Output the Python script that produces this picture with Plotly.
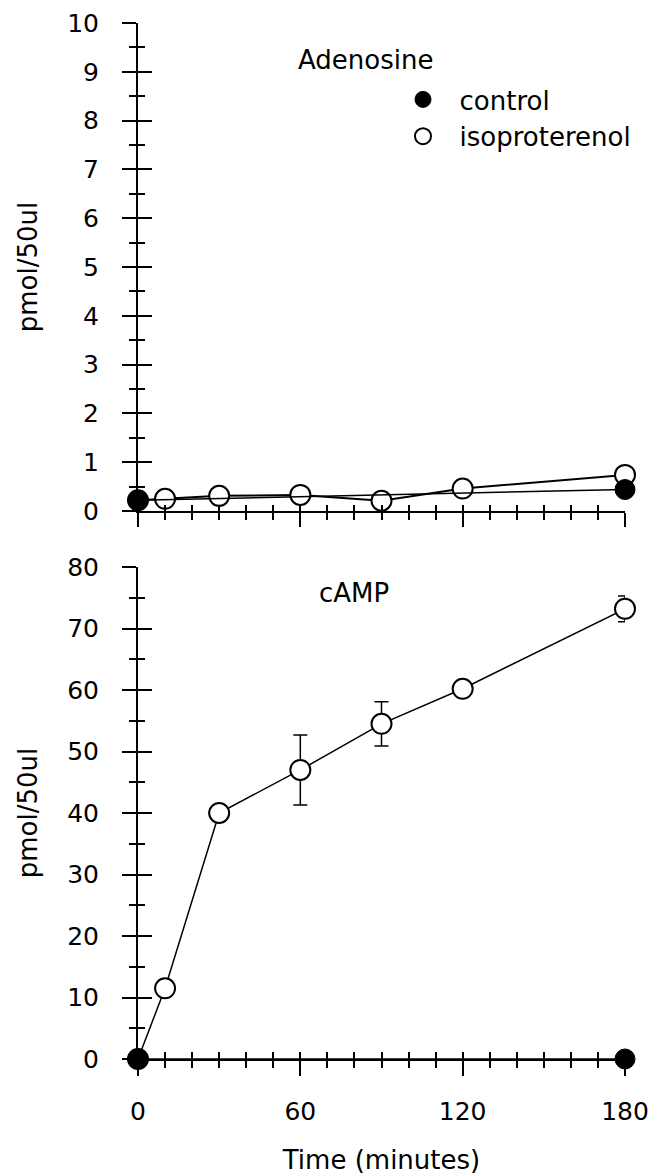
import plotly.graph_objects as go

# ---------------- data ----------------
time_ctrl = [0, 180]
time_iso = [0, 10, 30, 60, 90, 120, 180]

adeno_ctrl = [0.22, 0.44]
adeno_iso = [0.22, 0.25, 0.31, 0.33, 0.21, 0.46, 0.74]

camp_ctrl = [0, 0]
camp_iso = [0, 11.5, 40.0, 47.0, 54.5, 60.2, 73.2]
camp_iso_err = [0, 0, 0, 5.7, 3.6, 0, 2.1]

x_major = [0, 60, 120, 180]
x_tick_text = ["0", "60", "120", "180"]

series_names = ["\u00a0\u00a0control", "\u00a0\u00a0isoproterenol"]

# ---------------- style ----------------
W, H = 655, 1175
FONT = "DejaVu Sans"
FS_TICK = 25
FS = 26
BLACK = "black"

xd = [138 / W, 625 / W]
top_dom = [1 - 511 / H, 1 - 23 / H]
bot_dom = [1 - 1059 / H, 1 - 567 / H]

MS = 20

fig = go.Figure()

# ---- top panel: Adenosine ----
fig.add_trace(go.Scatter(x=time_iso, y=adeno_iso, mode="lines",
                         line=dict(color=BLACK, width=2), showlegend=False,
                         xaxis="x", yaxis="y", hoverinfo="skip"))
fig.add_trace(go.Scatter(x=time_iso, y=adeno_iso, mode="markers", name=series_names[1],
                         marker=dict(symbol="circle", size=MS, color="white",
                                     line=dict(color=BLACK, width=2)),
                         cliponaxis=False, xaxis="x", yaxis="y", legendrank=2))
fig.add_trace(go.Scatter(x=time_ctrl, y=adeno_ctrl, mode="lines",
                         line=dict(color=BLACK, width=1.5), showlegend=False,
                         xaxis="x", yaxis="y", hoverinfo="skip"))
fig.add_trace(go.Scatter(x=time_ctrl, y=adeno_ctrl, mode="markers", name=series_names[0],
                         marker=dict(symbol="circle", size=MS, color=BLACK,
                                     line=dict(color=BLACK, width=1)),
                         cliponaxis=False, xaxis="x", yaxis="y", legendrank=1))

# ---- bottom panel: cAMP ----
fig.add_trace(go.Scatter(x=time_iso, y=camp_iso, mode="lines",
                         line=dict(color=BLACK, width=1.5), showlegend=False,
                         xaxis="x2", yaxis="y2", hoverinfo="skip"))
fig.add_trace(go.Scatter(x=time_iso, y=camp_iso, mode="markers", showlegend=False,
                         error_y=dict(type="data", array=camp_iso_err, visible=True,
                                      color=BLACK, thickness=1.5, width=7),
                         marker=dict(symbol="circle", size=MS, color="white",
                                     line=dict(color=BLACK, width=2)),
                         cliponaxis=False, xaxis="x2", yaxis="y2"))
fig.add_trace(go.Scatter(x=time_ctrl, y=camp_ctrl, mode="lines",
                         line=dict(color=BLACK, width=1.5), showlegend=False,
                         xaxis="x2", yaxis="y2", hoverinfo="skip"))
fig.add_trace(go.Scatter(x=time_ctrl, y=camp_ctrl, mode="markers", showlegend=False,
                         marker=dict(symbol="circle", size=MS, color=BLACK,
                                     line=dict(color=BLACK, width=1)),
                         cliponaxis=False, xaxis="x2", yaxis="y2"))

# invisible traces to register overlay axes (inside half of the crossing ticks)
fig.add_trace(go.Scatter(x=[None], y=[None], xaxis="x3", yaxis="y3",
                         showlegend=False, hoverinfo="skip"))
fig.add_trace(go.Scatter(x=[None], y=[None], xaxis="x4", yaxis="y4",
                         showlegend=False, hoverinfo="skip"))

tickfont = dict(family=FONT, size=FS_TICK, color=BLACK)
titlefont = dict(family=FONT, size=FS, color=BLACK)


def xaxis_common(ticks, ticklen, minor_len, show_line):
    return dict(range=[0, 180], tickmode="array", tickvals=x_major,
                ticks=ticks, ticklen=ticklen, tickwidth=2, tickcolor=BLACK,
                minor=dict(dtick=10, tick0=0, ticks=ticks, ticklen=minor_len,
                           tickwidth=1.5, tickcolor=BLACK, showgrid=False),
                showline=show_line, linecolor=BLACK, linewidth=2,
                showgrid=False, zeroline=False, fixedrange=True)


def yaxis_common(rng, dtick, ticks, ticklen, minor_len, show_line):
    return dict(range=rng, dtick=dtick, tick0=0,
                ticks=ticks, ticklen=ticklen, tickwidth=2, tickcolor=BLACK,
                minor=dict(dtick=dtick / 2, tick0=0, ticks=ticks, ticklen=minor_len,
                           tickwidth=1.5, tickcolor=BLACK, showgrid=False),
                showline=show_line, linecolor=BLACK, linewidth=2,
                showgrid=False, zeroline=False, fixedrange=True)


xa1 = xaxis_common("outside", 14, 7, True)
xa1.update(domain=xd, anchor="y", showticklabels=False)
ya1 = yaxis_common([0, 10], 1, "outside", 14, 7, True)
ya1.update(domain=top_dom, anchor="x", tickfont=tickfont, ticklabelstandoff=18,
           title=dict(text="pmol/50ul", font=titlefont, standoff=22))

xa2 = xaxis_common("outside", 15, 7, True)
xa2.update(domain=xd, anchor="y2", ticktext=x_tick_text, tickfont=tickfont,
           ticklabelstandoff=14,
           title=dict(text="Time (minutes)", font=titlefont, standoff=26))
ya2 = yaxis_common([0, 80], 10, "outside", 14, 7, True)
ya2.update(domain=bot_dom, anchor="x2", tickfont=tickfont, ticklabelstandoff=18,
           title=dict(text="pmol/50ul", font=titlefont, standoff=22))

xa3 = xaxis_common("inside", 6, 6, False)
xa3.update(overlaying="x", anchor="y3", showticklabels=False)
ya3 = yaxis_common([0, 10], 1, "inside", 14, 7, False)
ya3.update(overlaying="y", anchor="x3", showticklabels=False)
xa4 = xaxis_common("inside", 6, 7, False)
xa4.update(overlaying="x2", anchor="y4", showticklabels=False)
ya4 = yaxis_common([0, 80], 10, "inside", 14, 7, False)
ya4.update(overlaying="y2", anchor="x4", showticklabels=False)

fig.update_layout(
    width=W, height=H,
    margin=dict(l=0, r=0, t=0, b=0, autoexpand=False),
    paper_bgcolor="white", plot_bgcolor="rgba(0,0,0,0)",
    font=dict(family=FONT, size=FS, color=BLACK),
    xaxis=xa1, yaxis=ya1, xaxis2=xa2, yaxis2=ya2,
    xaxis3=xa3, yaxis3=ya3, xaxis4=xa4, yaxis4=ya4,
    showlegend=True,
    legend=dict(x=403 / W, xanchor="left", y=1 - 76 / H, yanchor="top",
                bgcolor="rgba(0,0,0,0)", borderwidth=0,
                font=dict(family=FONT, size=FS, color=BLACK),
                traceorder="normal", itemsizing="trace"),
    annotations=[
        dict(text="Adenosine", x=365 / W, y=1 - 43 / H, xref="paper", yref="paper",
             showarrow=False, font=titlefont),
        dict(text="cAMP", x=354 / W, y=1 - 593 / H, xref="paper", yref="paper",
             showarrow=False, font=titlefont),
    ],
)

fig.write_html("out.html")
